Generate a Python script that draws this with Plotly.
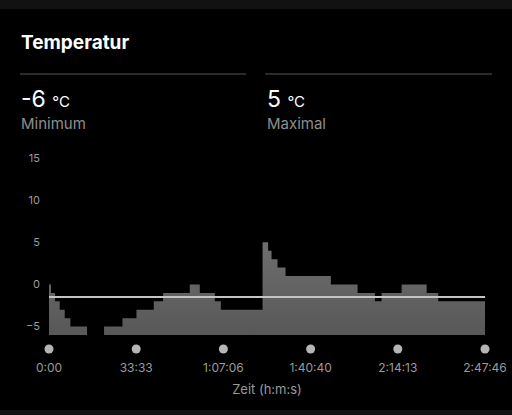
import plotly.graph_objects as go

# ---- data ----
time_s = [0, 46, 139, 247, 363, 494, 878, 1271, 1696, 2019, 2419, 2634, 3250, 3481,
          3828, 3967, 4930, 5059, 5138, 5276, 5461, 6507, 7124, 7524, 7679, 8141,
          8719, 8987, 10066]
temp_c = [0, -1, -2, -3, -4, -5, -6, -5, -4, -3, -2, -1, 0, -1,
          -2, -3, 5, 4, 3, 2, 1, 0, -1, -2, -1, 0,
          -1, -2, -2]
avg_temp = -1.5
min_temp = -6
max_temp = 5
tick_vals = [0, 2013, 4026, 6040, 8053, 10066]
tick_text = ["0:00", "33:33", "1:07:06", "1:40:40", "2:14:13", "2:47:46"]
y_ticks = [-5, 0, 5, 10, 15]

W, H = 512, 415
ML, MR, MT, MB = 49, 27, 158, 60
PW, PH = W - ML - MR, H - MT - MB
PX_PER_UNIT = 8.43
BASE = -6
Y1 = 15
Y0 = Y1 - PH / PX_PER_UNIT
X0, X1 = 0, 10066
MARK_Y = BASE - 14 / PX_PER_UNIT


def px(x):
    return (x - ML) / PW


def py(y):
    return (H - MB - y) / PH


FONT = "Inter, Roboto, 'Noto Sans', sans-serif"
GRAY = "#9a9a9a"

fig = go.Figure()
fig.add_trace(go.Scatter(x=[X0, X1], y=[BASE, BASE], mode="lines",
                         line=dict(width=0, color="rgba(0,0,0,0)"),
                         hoverinfo="skip", showlegend=False))
fig.add_trace(go.Scatter(x=time_s, y=temp_c, mode="lines", line_shape="hv",
                         line=dict(width=0, color="#666666"),
                         fill="tonexty",
                         fillgradient=dict(type="vertical",
                                           colorscale=[[0, "#585858"], [1, "#6e6e6e"]]),
                         showlegend=False))
fig.add_trace(go.Scatter(x=[X0, X1], y=[avg_temp, avg_temp], mode="lines",
                         line=dict(width=2, color="#c4c4c4"), showlegend=False))
fig.add_trace(go.Scatter(x=tick_vals, y=[MARK_Y] * len(tick_vals), mode="markers",
                         marker=dict(size=9, color="#b5b5b5"), cliponaxis=False,
                         showlegend=False))

fig.update_layout(
    width=W, height=H, autosize=False,
    margin=dict(l=ML, r=MR, t=MT, b=MB, pad=0, autoexpand=False),
    paper_bgcolor="#000000", plot_bgcolor="#000000",
    font=dict(family=FONT, color=GRAY),
    xaxis=dict(range=[X0, X1], tickvals=tick_vals, ticktext=tick_text, automargin=False,
               showgrid=False, zeroline=False, showline=False, ticks="",
               ticklabelstandoff=4, tickfont=dict(size=12, color=GRAY),
               title=dict(text="Zeit (h:m:s)", font=dict(size=13, color=GRAY), standoff=10)),
    yaxis=dict(range=[Y0, Y1], tickvals=y_ticks, showgrid=False, zeroline=False,
               automargin=False, showline=False, ticks="", ticklabelstandoff=8,
               tickfont=dict(size=11, color=GRAY)),
    showlegend=False,
)

shapes = [
    dict(type="rect", xref="paper", yref="paper", x0=px(0), x1=px(W), y0=py(0), y1=py(9),
         fillcolor="#121212", line=dict(width=0), layer="below"),
    dict(type="rect", xref="paper", yref="paper", x0=px(0), x1=px(W), y0=py(410), y1=py(H),
         fillcolor="#121212", line=dict(width=0), layer="below"),
    dict(type="line", xref="paper", yref="paper", x0=px(20), x1=px(246), y0=py(74), y1=py(74),
         line=dict(color="#3a3a3a", width=1.5)),
    dict(type="line", xref="paper", yref="paper", x0=px(265), x1=px(492), y0=py(74), y1=py(74),
         line=dict(color="#3a3a3a", width=1.5)),
]
fig.update_layout(shapes=shapes)

ann = [
    dict(text="<b>Temperatur</b>", x=px(19), y=py(42), font=dict(size=19, color="#ffffff")),
    dict(text=f"{min_temp} <span style='font-size:15px'>°C</span>", x=px(19), y=py(99),
         font=dict(size=23, color="#ffffff")),
    dict(text="Minimum", x=px(19), y=py(123), font=dict(size=15, color="#8e8e8e")),
    dict(text=f"{max_temp} <span style='font-size:15px'>°C</span>", x=px(265), y=py(99),
         font=dict(size=23, color="#ffffff")),
    dict(text="Maximal", x=px(265), y=py(123), font=dict(size=15, color="#8e8e8e")),
]
for a in ann:
    a.update(xref="paper", yref="paper", xanchor="left", yanchor="middle", showarrow=False)
fig.update_layout(annotations=ann)

fig.write_html("out.html",
               config={"responsive": False, "displayModeBar": False},
               post_script="document.body.style.margin='0';document.body.style.overflow='hidden';"
                           "document.body.style.background='#000';")
